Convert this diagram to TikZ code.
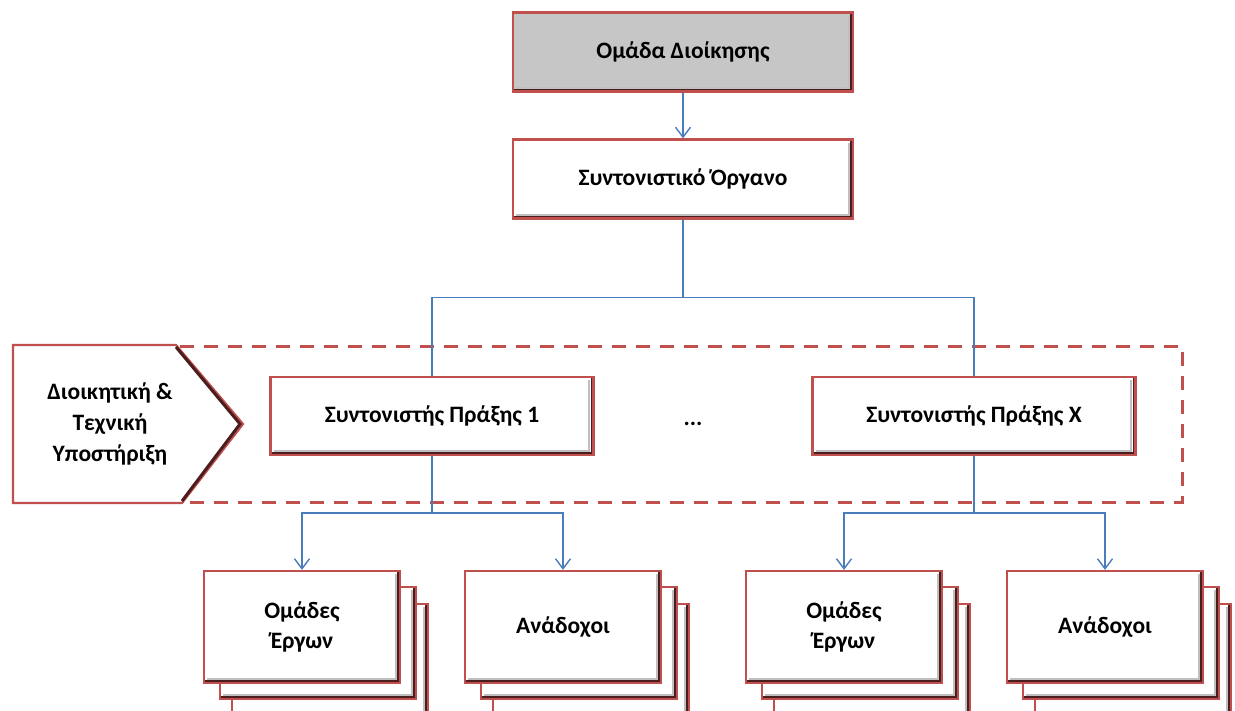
\documentclass[tikz,border=0pt]{standalone}
\usepackage{fontspec}
\setmainfont{Carlito}
\usetikzlibrary{arrows.meta}
\definecolor{boxred}{HTML}{C0504D}
\definecolor{bevel}{HTML}{4A1E1E}
\definecolor{linkblue}{HTML}{4A7EBB}
\definecolor{topgray}{HTML}{C6C6C6}
\tikzset{
  orgbox/.style={draw=boxred, line width=2.2pt, fill=white, inner sep=2pt, align=center,
    font=\fontsize{23.5}{30}\selectfont\bfseries,
    path picture={
      \draw[line width=3pt, draw=bevel] ([xshift=-1.5pt,yshift=-1pt]path picture bounding box.north east) -- ([xshift=-1.5pt,yshift=1.5pt]path picture bounding box.south east) -- ([xshift=1pt,yshift=1.5pt]path picture bounding box.south west);
      \draw[line width=2pt, draw=black!25] ([xshift=-4.5pt,yshift=-3pt]path picture bounding box.north east) -- ([xshift=-4.5pt,yshift=4pt]path picture bounding box.south east) -- ([xshift=3pt,yshift=4pt]path picture bounding box.south west);
    }},
  bigbox/.style={orgbox, minimum width=340pt, minimum height=79pt},
  midbox/.style={orgbox, minimum width=323pt, minimum height=78pt},
  smallbox/.style={orgbox, minimum width=196pt, minimum height=112pt},
  link/.style={draw=linkblue, line width=1.4pt},
  linkarrow/.style={link, -{Straight Barb[length=10pt,width=15pt,line width=1.4pt]}},
  grouprect/.style={draw=boxred, line width=3pt, dash pattern=on 14pt off 10pt},
  label/.style={font=\fontsize{23.5}{31}\selectfont\bfseries, align=center}
}
\begin{document}
\begin{tikzpicture}[x=1pt,y=-1pt]
\useasboundingbox (0,0) rectangle (1235,710);
\clip (0,0) rectangle (1235,710);

% dashed group rectangle
\draw[grouprect] (180,346) -- (1182,346) -- (1182,502) -- (180,502);

% support pentagon
\draw[draw=boxred, line width=2.2pt, fill=white] (13,345) -- (176,345) -- (243,424) -- (182,503) -- (13,503) -- cycle;
\draw[draw=bevel, line width=3pt] (176,347) -- (240,424) -- (182,501);
\node[label] (support) at (110,424) {Διοικητική \&\\Τεχνική\\Υποστήριξη};

% top boxes
\node[bigbox, fill=topgray] (mgmt) at (683,52) {Ομάδα Διοίκησης};
\node[bigbox] (coord) at (683,179) {Συντονιστικό Όργανο};

% action coordinators
\node[midbox] (p1) at (432,416) {Συντονιστής Πράξης 1};
\node[midbox] (px) at (974,416) {Συντονιστής Πράξης X};
\node[label] (dots) at (693,424) {...};

% stacked boxes
\foreach \cx/\nm in {302/o1, 563/a1, 844/o2, 1105/a2}{
  \node[smallbox] (\nm c) at (\cx+28,660) {};
  \node[smallbox] (\nm b) at (\cx+16,643) {};
}
\node[smallbox] (o1) at (302,627) {Ομάδες\\Έργων};
\node[smallbox] (a1) at (563,627) {Ανάδοχοι};
\node[smallbox] (o2) at (844,627) {Ομάδες\\Έργων};
\node[smallbox] (a2) at (1105,627) {Ανάδοχοι};

% connectors
\draw[linkarrow] (mgmt.south) -- (coord.north);
\draw[link] (coord.south) -- ++(0,78) -| (p1.north);
\draw[link] (coord.south) -- ++(0,78) -| (px.north);
\draw[linkarrow] (p1.south) -- ++(0,57) -| (o1.north);
\draw[linkarrow] (p1.south) -- ++(0,57) -| (a1.north);
\draw[linkarrow] (px.south) -- ++(0,57) -| (o2.north);
\draw[linkarrow] (px.south) -- ++(0,57) -| (a2.north);
\end{tikzpicture}
\end{document}
